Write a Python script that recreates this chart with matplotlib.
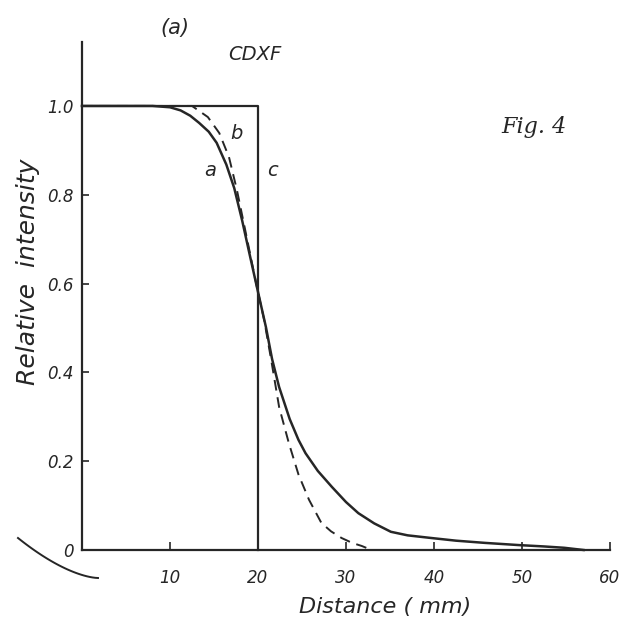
import matplotlib
matplotlib.use("Agg")
import matplotlib.pyplot as plt
import numpy as np

# ---- data ----
a_x = [0, 8, 10, 11.2, 12.3, 13.3, 14.4, 15.3, 16.4, 17.3, 18.2, 19.0, 19.9,
       20.9, 21.6, 22.4, 23.6, 24.6, 25.4, 26.8, 28.4, 30.0, 31.4, 33.2, 35.1,
       37.0, 39.7, 42.5, 45.8, 49.7, 52.5, 54.8, 57.0]
a_y = [1.0, 1.0, 0.997, 0.99, 0.978, 0.962, 0.942, 0.917, 0.868, 0.815,
       0.742, 0.67, 0.59, 0.502, 0.43, 0.367, 0.295, 0.248, 0.218, 0.178,
       0.142, 0.108, 0.083, 0.060, 0.041, 0.033, 0.027, 0.021, 0.016, 0.011,
       0.008, 0.005, 0.0]

b_x = [0, 12.5, 14.3, 15.6, 16.7, 17.6, 18.5, 19.9, 20.7, 21.5, 22.4, 23.5,
       24.6, 25.8, 27.2, 28.3, 29.5, 30.7, 31.8, 32.9]
b_y = [1.0, 1.0, 0.975, 0.939, 0.885, 0.811, 0.725, 0.59, 0.518, 0.428, 0.322,
       0.241, 0.17, 0.113, 0.061, 0.042, 0.027, 0.016, 0.009, 0.0]

c_x = [0, 20, 20]
c_y = [1.0, 1.0, 0.0]

x_ticks = [10, 20, 30, 40, 50, 60]
x_ticklabels = ["10", "20", "30", "40", "50", "60"]
y_ticks = [0, 0.2, 0.4, 0.6, 0.8, 1.0]
y_ticklabels = ["0", "0.2", "0.4", "0.6", "0.8", "1.0"]

ink = "#262626"
plt.rcParams['font.family'] = ['DejaVu Sans']
plt.rcParams['font.style'] = 'italic'

fig = plt.figure(figsize=(6.23, 6.25), dpi=100)
W, H = 623, 625
ax = fig.add_axes([82 / W, 1 - 550 / H, (610 - 82) / W, (550 - 42) / H])
ax.set_xlim(0, 60)
ax.set_ylim(0, 1.144)

ax.plot(c_x, c_y, color=ink, lw=1.6, clip_on=False)
ax.plot(a_x, a_y, color=ink, lw=1.8, clip_on=False)
ax.plot(b_x, b_y, color=ink, lw=1.4, ls=(0, (5.5, 3.5)), clip_on=False)

for s in ["top", "right"]:
    ax.spines[s].set_visible(False)
for s in ["left", "bottom"]:
    ax.spines[s].set_color(ink)
    ax.spines[s].set_linewidth(1.6)

ax.set_xticks(x_ticks)
ax.set_xticklabels(x_ticklabels)
ax.set_yticks(y_ticks)
ax.set_yticklabels(y_ticklabels)
ax.tick_params(axis="x", direction="in", length=6, width=1.2, colors=ink,
               labelsize=12, pad=14)
ax.tick_params(axis="y", direction="in", length=5, width=1.2, colors=ink,
               labelsize=12, pad=6)
for lab in ax.get_xticklabels() + ax.get_yticklabels():
    lab.set_fontstyle("italic")
    lab.set_fontweight("light")

ax.set_ylabel("Relative  intensity", fontsize=18, color=ink, style="italic",
              va="center")
ax.yaxis.set_label_coords((28 - 82) / 528, (550 - 272) / 508)
ax.set_xlabel("Distance ( mm)", fontsize=16, color=ink, style="italic",
              va="center")
ax.xaxis.set_label_coords((385 - 82) / 528, -(607 - 550) / 508)

# curve labels
ax.text(14.6, 0.855, "a", fontsize=14, color=ink, style="italic",
        ha="center", va="center")
ax.text(17.5, 0.937, "b", fontsize=14, color=ink, style="italic",
        ha="center", va="center")
ax.text(21.6, 0.855, "c", fontsize=14, color=ink, style="italic",
        ha="center", va="center")

# headings
fig.text(175 / W, 1 - 28 / H, "(a)", fontsize=15, color=ink, style="italic",
         ha="center", va="center")
fig.text(255 / W, 1 - 55 / H, "CDXF", fontsize=14, color=ink, style="italic",
         ha="center", va="center")
fig.text(534 / W, 1 - 127 / H, "Fig. 4", fontsize=16, color=ink,
         family="DejaVu Serif", style="italic", ha="center", va="center")

# hand-drawn arc at lower left
t = np.linspace(0, 1, 30)
arc_x = 18 + 80 * t
arc_y = 538 + 40 * (1 - (1 - t) ** 1.6)
fig.add_artist(plt.Line2D([v / W for v in arc_x], [1 - v / H for v in arc_y],
                          color=ink, lw=1.4))

fig.savefig("out.png", dpi=100)
